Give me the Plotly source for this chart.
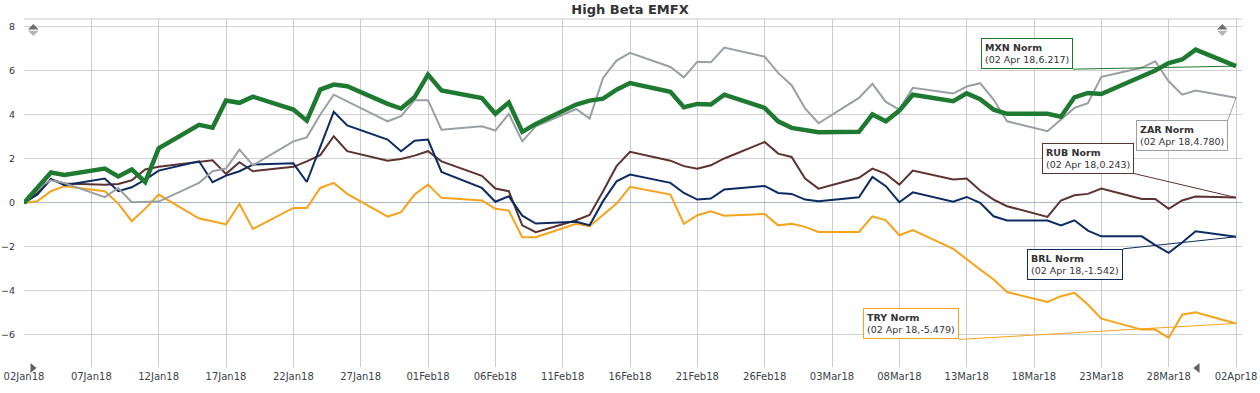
import plotly.graph_objects as go

# ---------------- data ----------------
dates = [
    "2018-01-02", "2018-01-03", "2018-01-04", "2018-01-05",
    "2018-01-08", "2018-01-09", "2018-01-10", "2018-01-11", "2018-01-12",
    "2018-01-15", "2018-01-16", "2018-01-17", "2018-01-18", "2018-01-19",
    "2018-01-22", "2018-01-23", "2018-01-24", "2018-01-25", "2018-01-26",
    "2018-01-29", "2018-01-30", "2018-01-31", "2018-02-01", "2018-02-02",
    "2018-02-05", "2018-02-06", "2018-02-07", "2018-02-08", "2018-02-09",
    "2018-02-12", "2018-02-13", "2018-02-14", "2018-02-15", "2018-02-16",
    "2018-02-19", "2018-02-20", "2018-02-21", "2018-02-22", "2018-02-23",
    "2018-02-26", "2018-02-27", "2018-02-28", "2018-03-01", "2018-03-02",
    "2018-03-05", "2018-03-06", "2018-03-07", "2018-03-08", "2018-03-09",
    "2018-03-12", "2018-03-13", "2018-03-14", "2018-03-15", "2018-03-16",
    "2018-03-19", "2018-03-20", "2018-03-21", "2018-03-22", "2018-03-23",
    "2018-03-26", "2018-03-27", "2018-03-28", "2018-03-29", "2018-03-30",
    "2018-04-02",
]

mxn = [0, 0.70, 1.38, 1.27,
       1.56, 1.20, 1.52, 0.95, 2.48,
       3.55, 3.42, 4.65, 4.55, 4.83,
       4.24, 3.74, 5.15, 5.38, 5.30,
       4.50, 4.29, 4.80, 5.83, 5.11,
       4.77, 4.05, 4.56, 3.23, 3.59,
       4.47, 4.65, 4.74, 5.15, 5.45,
       5.05, 4.35, 4.50, 4.47, 4.92,
       4.32, 3.71, 3.41, 3.33, 3.21,
       3.23, 4.02, 3.71, 4.20, 4.92,
       4.62, 4.98, 4.71, 4.24, 4.05,
       4.05, 3.92, 4.80, 5.00, 4.95,
       5.79, 6.02, 6.36, 6.52, 6.97,
       6.217]

zar = [0, 0.71, 1.03, 0.90,
       0.26, 0.68, 0.03, 0.04, 0.06,
       0.91, 1.44, 1.56, 2.42, 1.71,
       2.80, 2.98, 4.02, 4.92, 4.62,
       3.71, 3.94, 4.67, 4.67, 3.33,
       3.48, 3.29, 4.05, 2.80, 3.48,
       4.27, 3.83, 5.68, 6.47, 6.82,
       6.18, 5.71, 6.42, 6.39, 7.06,
       6.65, 5.91, 5.35, 4.29, 3.62,
       4.77, 5.41, 4.59, 4.24, 5.23,
       4.97, 5.29, 5.44, 4.70, 3.71,
       3.26, 3.79, 4.32, 4.53, 5.73,
       6.14, 6.44, 5.53, 4.92, 5.11,
       4.780]

rub = [0, 0.45, 1.06, 0.88,
       0.83, 0.86, 1.03, 1.52, 1.64,
       1.89, 1.94, 1.32, 1.85, 1.44,
       1.64, 1.89, 2.17, 3.03, 2.35,
       1.92, 2.00, 2.15, 2.35, 1.89,
       1.23, 0.65, 0.53, -1.02, -1.33,
       -0.79, -0.55, 0.53, 1.67, 2.32,
       1.92, 1.67, 1.55, 1.71, 2.02,
       2.77, 2.24, 2.09, 1.11, 0.65,
       1.14, 1.56, 1.32, 0.83, 1.47,
       1.06, 1.11, 0.56, 0.15, -0.15,
       -0.64, 0.11, 0.35, 0.41, 0.65,
       0.18, 0.18, -0.27, 0.11, 0.29,
       0.243]

brl = [0, 0.38, 1.09, 0.80,
       1.11, 0.53, 0.71, 1.06, 1.47,
       1.89, 0.94, 1.24, 1.44, 1.74,
       1.80, 0.95, 2.55, 4.14, 3.52,
       2.88, 2.35, 2.83, 2.88, 1.41,
       0.68, 0.05, 0.30, -0.58, -0.94,
       -0.86, -1.02, 0.08, 0.98, 1.29,
       0.91, 0.45, 0.15, 0.20, 0.61,
       0.77, 0.45, 0.41, 0.15, 0.08,
       0.26, 1.18, 0.76, 0.03, 0.48,
       0.05, 0.27, 0.00, -0.61, -0.80,
       -0.80, -1.02, -0.79, -1.26, -1.52,
       -1.52, -1.92, -2.27, -1.80, -1.29,
       -1.542]

try_ = [0, 0.08, 0.53, 0.76,
        0.53, -0.03, -0.83, -0.26, 0.38,
        -0.71, -0.83, -0.98, -0.05, -1.18,
        -0.23, -0.23, 0.68, 0.91, 0.41,
        -0.62, -0.42, 0.38, 0.83, 0.23,
        0.11, -0.27, -0.35, -1.56, -1.56,
        -0.95, -1.06, -0.53, -0.03, 0.73,
        0.38, -0.95, -0.56, -0.38, -0.58,
        -0.50, -1.02, -0.95, -1.09, -1.32,
        -1.32, -0.61, -0.79, -1.47, -1.24,
        -2.09, -2.58, -3.03, -3.48, -4.05,
        -4.50, -4.24, -4.09, -4.62, -5.26,
        -5.76, -5.76, -6.14, -5.08, -4.97,
        -5.479]

series_names = ["TRY Norm", "RUB Norm", "BRL Norm", "ZAR Norm", "MXN Norm"]
series_values = [try_, rub, brl, zar, mxn]
series_colors = ["#f7a21b", "#5d3232", "#0c2b62", "#9a9fa3", "#1f7a31"]
series_widths = [2, 2, 2, 2, 4.5]

title_text = "High Beta EMFX"
last_label = "02 Apr 18"

# ---------------- layout geometry (pixels) ----------------
W, H = 1260, 393
ML, MR, MT, MB = 24, 18, 19, 26
PW, PH = W - ML - MR, H - MT - MB


def px(xp):
    return (xp - ML) / PW


def py(yp):
    return (H - MB - yp) / PH


fig = go.Figure()
for name, vals, col, wd in zip(series_names, series_values, series_colors, series_widths):
    fig.add_trace(go.Scatter(
        x=dates, y=vals, mode="lines", name=name,
        line=dict(color=col, width=wd), hoverinfo="skip",
    ))

# callout boxes: (pixel offset of tail from head, anchors)
callout_cfg = {
    "MXN Norm": dict(ax=-163, ay=3, xanchor="right", yanchor="bottom"),
    "ZAR Norm": dict(ax=-8, ay=22, xanchor="right", yanchor="top"),
    "RUB Norm": dict(ax=-102, ay=-24, xanchor="right", yanchor="bottom"),
    "BRL Norm": dict(ax=-113, ay=12, xanchor="right", yanchor="top"),
    "TRY Norm": dict(ax=-277, ay=16, xanchor="right", yanchor="bottom"),
}
for name, vals, col in zip(series_names, series_values, series_colors):
    c = callout_cfg[name]
    fig.add_annotation(
        x=dates[-1], y=vals[-1], xref="x", yref="y",
        text=f"<b>{name}</b><br>({last_label},{vals[-1]:.3f})",
        showarrow=True, arrowhead=0, arrowwidth=1, arrowcolor=col,
        ax=c["ax"], ay=c["ay"], xanchor=c["xanchor"], yanchor=c["yanchor"],
        align="left", bgcolor="white", bordercolor=col, borderwidth=1, borderpad=3,
        font=dict(family="DejaVu Sans", size=9.5, color="#333333"),
    )

# decorative scroll arrows
def tri(points, color):
    path = "M " + " L ".join(f"{px(a):.5f},{py(b):.5f}" for a, b in points) + " Z"
    fig.add_shape(type="path", path=path, xref="paper", yref="paper",
                  fillcolor=color, line=dict(width=0), layer="above")

for cx in (33.3, 1222.3):
    tri([(cx - 5.3, 29.5), (cx + 5.3, 29.5), (cx, 24)], "#6e6e6e")
    tri([(cx - 5.3, 30.8), (cx + 5.3, 30.8), (cx, 36)], "#b4b4b4")
tri([(30.5, 363), (30.5, 373), (36.5, 368)], "#606060")
tri([(1199.5, 363), (1199.5, 373), (1193.5, 368)], "#606060")

# top border line
fig.add_shape(type="line", xref="paper", yref="paper", x0=0, x1=1, y0=1, y1=1,
              line=dict(color="#cccccc", width=1))

fig.update_layout(
    width=W, height=H,
    margin=dict(l=ML, r=MR, t=MT, b=MB, autoexpand=False),
    paper_bgcolor="white", plot_bgcolor="white",
    showlegend=False,
    title=dict(text=f"<b>{title_text}</b>", x=0.5, xanchor="center",
               y=1 - 9.5 / H, yanchor="middle", yref="container",
               automargin=False,
               font=dict(family="DejaVu Sans", size=13, color="#333333")),
    xaxis=dict(
        type="date", range=["2018-01-02", "2018-04-02 10:40"],
        tick0="2018-01-02", dtick=5 * 86400000, tickformat="%d%b%y",
        showgrid=True, gridcolor="#cccccc", gridwidth=1,
        zeroline=False, showline=False, ticks="", automargin=False,
        tickfont=dict(family="DejaVu Sans", size=10, color="#3a3f48"),
        ticklabelstandoff=2,
    ),
    yaxis=dict(
        range=[-7.46, 8.36], tick0=0, dtick=2,
        showgrid=True, gridcolor="#d0d0d0", gridwidth=1,
        zeroline=True, zerolinecolor="#a9b8c8", zerolinewidth=1,
        showline=False, ticks="", automargin=False,
        tickfont=dict(family="DejaVu Sans", size=9.5, color="#333333"),
        ticklabelstandoff=8,
    ),
)

fig.write_html(
    "out.html",
    config={"displayModeBar": False},
    post_script="document.body.style.margin='0px';document.body.style.padding='0px';",
)
